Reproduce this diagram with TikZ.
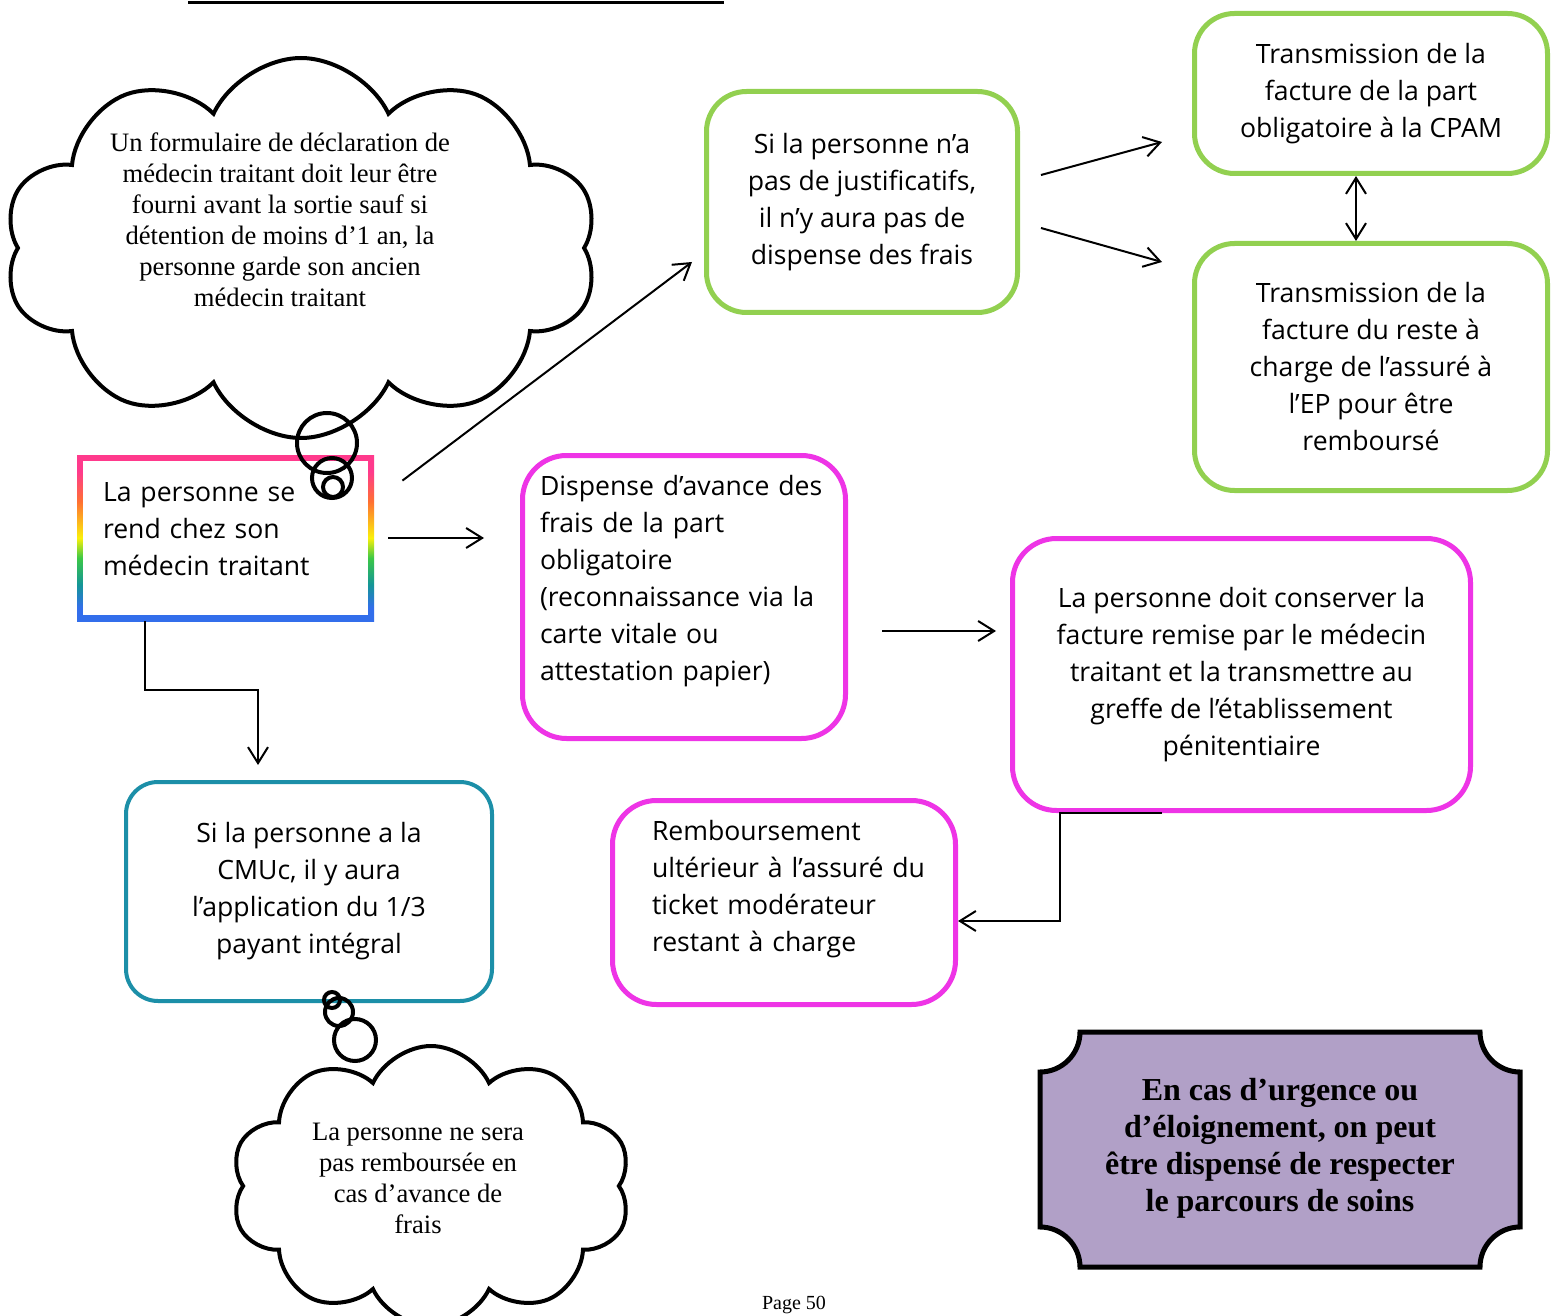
\documentclass[tikz,border=0pt]{standalone}
\usepackage{fontspec}
\setmainfont{Liberation Serif}
\newfontfamily\boxfont{Open Sans}
\usetikzlibrary{arrows.meta,shapes.symbols}
\definecolor{sgreen}{RGB}{146,208,80}
\definecolor{smagenta}{RGB}{238,52,230}
\definecolor{steal}{RGB}{28,143,168}
\definecolor{spurple}{RGB}{177,160,199}
\definecolor{rbpink}{RGB}{255,58,140}
\definecolor{rborange}{RGB}{255,112,50}
\definecolor{rbyellow}{RGB}{250,240,10}
\definecolor{rbgreen}{RGB}{60,200,70}
\definecolor{rbteal}{RGB}{20,150,150}
\definecolor{rbblue}{RGB}{50,110,235}
\pgfdeclareverticalshading{rainbowedge}{100bp}{color(0bp)=(rbblue); color(29bp)=(rbblue); color(36bp)=(rbteal); color(44bp)=(rbgreen); color(50bp)=(rbyellow); color(61bp)=(rborange); color(70bp)=(rbpink); color(100bp)=(rbpink)}
\tikzset{
  boxtext/.style={font=\boxfont\fontsize{13.3}{18.5}\selectfont},
  cloudtext/.style={align=center, font=\fontsize{13.3}{15.5}\selectfont},
  greenbox/.style={draw=sgreen, line width=2.5pt, rounded corners=20pt, align=center, boxtext},
  pinkbox/.style={draw=smagenta, line width=2.5pt, rounded corners=22pt, boxtext},
  tealbox/.style={draw=steal, line width=2pt, rounded corners=16pt, align=center, boxtext},
  rainbowbox/.style={shading=rainbowedge, boxtext, align=left, inner sep=0pt,
    path picture={\fill[white] ([shift={(3pt,-3pt)}]path picture bounding box.north west)
      rectangle ([shift={(-3pt,3pt)}]path picture bounding box.south east);}},
  thought/.style={cloud, cloud puffs=10, cloud puff arc=130, cloud ignores aspect, draw, line width=2pt, fill=white},
  bubble/.style={circle, draw, line width=2pt, inner sep=0pt},
  arr/.style={-{Straight Barb[length=8pt,width=10pt]}, line width=1pt}
}
\begin{document}
\begin{tikzpicture}[x=0.5pt, y=-0.5pt]
\fill[white] (0,0) rectangle (1554,1316);
\useasboundingbox (0,0) rectangle (1554,1316);
\clip (0,0) rectangle (1554,1316);

% cut heading rule
\draw[line width=1.5pt] (188,3) -- (724,3);

% thought clouds
\node[thought, minimum width=297pt, minimum height=190pt] (formcloud) at (301,248) {};
\node[cloudtext] (formtext) at (280,220) {Un formulaire de déclaration de\\médecin traitant doit leur être\\fourni avant la sortie sauf si\\détention de moins d’1 an, la\\personne garde son ancien\\médecin traitant};
\node[thought, minimum width=200pt, minimum height=140pt] (rembcloud) at (431,1186) {};
\node[cloudtext] (rembtext) at (418,1178) {La personne ne sera\\pas remboursée en\\cas d’avance de\\frais};

% boxes
\node[rainbowbox, minimum width=148.5pt, minimum height=83pt, text width=122.5pt] (start) at (225.5,538)
  {La personne se\\rend chez son\\médecin traitant\rule[-9pt]{0pt}{0pt}};
\node[greenbox, minimum width=155.5pt, minimum height=110.5pt] (nojust) at (862,202)
  {Si la personne n’a\\pas de justificatifs,\\il n’y aura pas de\\dispense des frais};
\node[greenbox, minimum width=176.5pt, minimum height=80pt] (cpam) at (1371,93.5)
  {Transmission de la\\facture de la part\\obligatoire à la CPAM};
\node[greenbox, minimum width=176.5pt, minimum height=123.5pt] (ep) at (1371,367)
  {Transmission de la\\facture du reste à\\charge de l’assuré à\\l’EP pour être\\remboursé};
\node[pinkbox, minimum width=161.5pt, minimum height=141.5pt, text width=144pt, align=left] (dispense) at (684,597)
  {Dispense d’avance des\\frais de la part\\obligatoire\\(reconnaissance via la\\carte vitale ou\\attestation papier)\rule[-19pt]{0pt}{0pt}};
\node[pinkbox, minimum width=229pt, minimum height=136pt, align=center] (facture) at (1241.5,674.5)
  {La personne doit conserver la\\facture remise par le médecin\\traitant et la transmettre au\\greffe de l’établissement\\pénitentiaire};
\node[pinkbox, minimum width=171.5pt, minimum height=102pt, text width=132pt, align=left] (rembours) at (784,902.5)
  {Remboursement\\\mbox{ultérieur à l’assuré du}\\ticket modérateur\\restant à charge\rule[-17pt]{0pt}{0pt}};
\node[tealbox, minimum width=183pt, minimum height=109.5pt] (cmu) at (309,891.5)
  {Si la personne a la\\CMUc, il y aura\\l’application du 1/3\\payant intégral};

% thought bubbles
\node[bubble, minimum size=30pt] (fb1) at (327,443) {};
\node[bubble, minimum size=20pt] (fb2) at (332,478) {};
\node[bubble, minimum size=10pt] (fb3) at (333,487) {};
\node[bubble, minimum size=8pt] (rb1) at (332,1000) {};
\node[bubble, minimum size=14pt] (rb2) at (339,1012) {};
\node[bubble, minimum size=21pt] (rb3) at (355,1040) {};

% plaque
\draw[line width=2.5pt, fill=spurple] (1080,1032) -- (1480,1032)
  .. controls (1480,1054) and (1498,1072) .. (1520,1072) -- (1520,1227)
  .. controls (1498,1227) and (1480,1245) .. (1480,1267) -- (1080,1267)
  .. controls (1080,1245) and (1062,1227) .. (1040,1227) -- (1040,1072)
  .. controls (1062,1072) and (1080,1054) .. (1080,1032) -- cycle;
\node[align=center, font=\bfseries\fontsize{16}{18.5}\selectfont] (urgence) at (1280,1148)
  {En cas d’urgence ou\\d’éloignement, on peut\\être dispensé de respecter\\le parcours de soins};

% connectors
\draw[arr] ([shift={(14pt,-13pt)}]start.north east) -- ([shift={(-6pt,-30pt)}]nojust.west);
\coordinate (s2d) at ([xshift=7pt]start.east);
\draw[arr] (s2d) -- ([xshift=-18pt]dispense.west |- s2d);
\draw[arr] ([xshift=34pt]start.south west) -- ++(0,69) -| ([shift={(-25.5pt,7.5pt)}]cmu.north);
\draw[arr] ([shift={(10.5pt,13.5pt)}]nojust.east) -- ([shift={(-15pt,17pt)}]cpam.south west);
\draw[arr] ([shift={(10.5pt,-13pt)}]nojust.east) -- ([shift={(-15pt,-10.5pt)}]ep.north west);
\draw[{Straight Barb[length=8pt,width=10pt]}-{Straight Barb[length=8pt,width=10pt]}, line width=1pt]
  ([xshift=-7.5pt]cpam.south) -- ([xshift=-7.5pt]ep.north);
\coordinate (d2f) at ([shift={(17pt,-17pt)}]dispense.east);
\draw[arr] (d2f) -- ([xshift=-7pt]facture.west |- d2f);
\draw[arr] ([xshift=-39.75pt]facture.south) -- ++(-102,0) |- ([yshift=-9.25pt]rembours.east);

% footer
\node[font=\fontsize{10}{12}\selectfont] (page) at (794,1305) {Page 50};
\end{tikzpicture}
\end{document}
